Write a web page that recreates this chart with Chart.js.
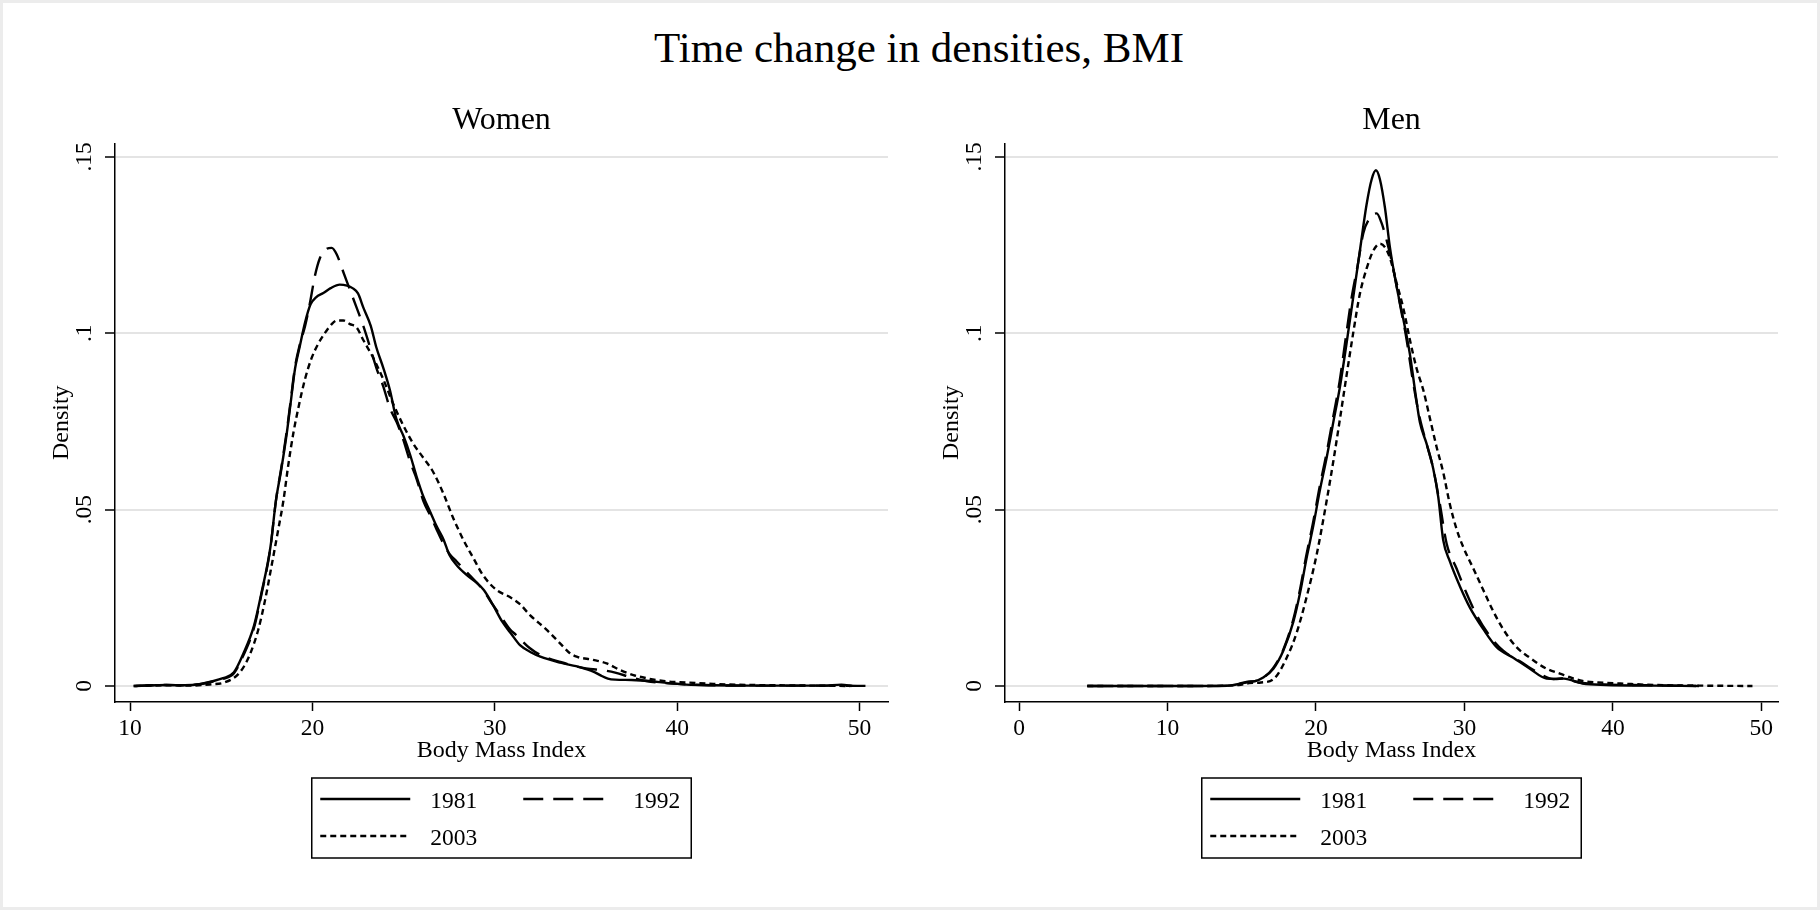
<!DOCTYPE html>
<html>
<head>
<meta charset="utf-8">
<script src="https://cdn.jsdelivr.net/npm/chart.js@4/dist/chart.umd.min.js"></script>
<style>
html,body{margin:0;padding:0;background:#fff;}
#frame{position:relative;width:1820px;height:910px;overflow:hidden;background:#fff;}
#border{position:absolute;left:0;top:0;width:1820px;height:910px;box-sizing:border-box;border:3px solid #ececec;pointer-events:none;}
#mainTitle{position:absolute;left:0;width:1838px;top:26px;text-align:center;font-family:"Liberation Serif",serif;font-size:43px;line-height:43px;color:#000;white-space:nowrap;}
.panel{position:absolute;top:0;width:910px;height:910px;}
</style>
</head>
<body>
<div id="frame">
  <div id="mainTitle">Time change in densities, BMI</div>
  <div class="panel" style="left:0px"><canvas id="women" width="910" height="910"></canvas></div>
  <div class="panel" style="left:890px"><canvas id="men" width="910" height="910"></canvas></div>
  <div id="border"></div>
</div>
<script>
// ---------- data ----------
const years = ['1981', '1992', '2003'];
const panelTitles = ['Women', 'Men'];
const xTitle = 'Body Mass Index';
const yTitle = 'Density';
const yTickValues = [0, 0.05, 0.1, 0.15];
const yTickLabels = ['0', '.05', '.1', '.15'];
const xTicksWomen = [10, 20, 30, 40, 50];
const xTicksMen = [0, 10, 20, 30, 40, 50];

const womenBmi1981 = [10.2, 11.0, 12.0, 13.0, 13.8, 14.4, 15.1, 15.7, 16.2, 16.8, 17.2, 17.7, 18.0, 18.3, 18.6, 18.8, 19.05, 19.3, 19.6, 19.9, 20.2, 20.6, 21.0, 21.5, 21.9, 22.2, 22.5, 22.8, 23.2, 23.5, 23.9, 24.25, 24.6, 25.0, 25.35, 25.7, 26.1, 26.45, 26.8, 27.2, 27.5, 27.9, 28.5, 29.0, 29.4, 29.9, 30.4, 30.9, 31.4, 32.0, 32.5, 33.6, 34.7, 35.4, 35.8, 36.2, 36.6, 37.5, 38.5, 39.5, 40.5, 42.0, 44.0, 46.0, 48.0, 49.0, 49.6];
const womenDens1981 = [0.0000, 0.0001, 0.0003, 0.0002, 0.0005, 0.0012, 0.0022, 0.0039, 0.0090, 0.0171, 0.0262, 0.0394, 0.0525, 0.0616, 0.0718, 0.0799, 0.0900, 0.0961, 0.1031, 0.1082, 0.1102, 0.1114, 0.1128, 0.1138, 0.1135, 0.1128, 0.1113, 0.1072, 0.1021, 0.0961, 0.0900, 0.0839, 0.0758, 0.0708, 0.0657, 0.0596, 0.0535, 0.0495, 0.0454, 0.0414, 0.0373, 0.0343, 0.0313, 0.0293, 0.0272, 0.0230, 0.0183, 0.0148, 0.0115, 0.0095, 0.0083, 0.0066, 0.0053, 0.0041, 0.0030, 0.0021, 0.0018, 0.0017, 0.0014, 0.0008, 0.0004, 0.0002, 0.0001, 0.0001, 0.0001, 0.0004, 0.0000];

const womenBmi1992 = [10.2, 11.0, 12.0, 13.0, 13.8, 14.4, 15.1, 15.7, 16.2, 16.8, 17.2, 17.7, 18.0, 18.3, 18.6, 18.8, 19.05, 19.3, 19.6, 19.87, 20.14, 20.42, 20.69, 21.06, 21.33, 21.70, 22.06, 22.43, 22.79, 23.16, 23.52, 23.89, 24.25, 24.62, 24.99, 25.35, 25.72, 26.08, 26.45, 26.81, 27.18, 27.54, 27.91, 28.46, 29.01, 29.37, 29.74, 30.29, 30.83, 31.16, 31.93, 32.5, 33.6, 35.0, 36.0, 36.6, 37.5, 38.3, 40.0, 42.0, 45.0, 48.0, 50.8];
const womenDens1992 = [0.0000, 0.0002, 0.0003, 0.0002, 0.0005, 0.0011, 0.0020, 0.0036, 0.0085, 0.0165, 0.0258, 0.0392, 0.0525, 0.0620, 0.0725, 0.0805, 0.0905, 0.0966, 0.1021, 0.1087, 0.1163, 0.1214, 0.1236, 0.1242, 0.1224, 0.1173, 0.1123, 0.1072, 0.1021, 0.0961, 0.0900, 0.0849, 0.0788, 0.0748, 0.0697, 0.0637, 0.0586, 0.0525, 0.0485, 0.0444, 0.0404, 0.0373, 0.0353, 0.0323, 0.0293, 0.0272, 0.0242, 0.0201, 0.0161, 0.0145, 0.0107, 0.0088, 0.0068, 0.0050, 0.0044, 0.0038, 0.0024, 0.0014, 0.0006, 0.0002, 0.0001, 0.0001, 0.0000];

const womenBmi2003 = [10.3, 12.0, 13.3, 14.5, 15.12, 16.03, 16.58, 17.04, 17.40, 17.77, 18.13, 18.41, 18.68, 18.96, 19.23, 19.59, 19.96, 20.33, 20.69, 21.06, 21.33, 21.70, 22.06, 22.43, 22.79, 23.34, 23.89, 24.44, 24.99, 25.53, 26.08, 26.63, 27.18, 27.73, 28.28, 28.82, 29.37, 30.10, 30.83, 31.38, 31.93, 32.85, 33.58, 34.12, 34.49, 35.40, 36.13, 36.87, 37.60, 38.33, 39.24, 40.15, 41.98, 43.81, 45.64, 47.47, 49.5];
const womenDens2003 = [0.0000, 0.0002, 0.0001, 0.0005, 0.0009, 0.0039, 0.0090, 0.0161, 0.0242, 0.0343, 0.0444, 0.0525, 0.0627, 0.0718, 0.0788, 0.0869, 0.0930, 0.0971, 0.1001, 0.1026, 0.1036, 0.1036, 0.1026, 0.1016, 0.0981, 0.0930, 0.0869, 0.0799, 0.0738, 0.0687, 0.0647, 0.0606, 0.0546, 0.0475, 0.0414, 0.0363, 0.0313, 0.0272, 0.0252, 0.0232, 0.0201, 0.0159, 0.0121, 0.0093, 0.0083, 0.0074, 0.0064, 0.0045, 0.0031, 0.0022, 0.0014, 0.0011, 0.0006, 0.0003, 0.0002, 0.0001, 0.0000];

const menBmi1981 = [4.6, 8.0, 12.0, 14.2, 14.8, 15.4, 15.9, 16.45, 17.13, 17.80, 18.47, 18.92, 19.37, 19.82, 20.27, 20.72, 21.17, 21.62, 22.06, 22.51, 22.96, 23.41, 23.75, 24.04, 24.31, 24.65, 24.98, 25.43, 25.88, 26.33, 26.67, 27.00, 27.45, 27.90, 28.24, 28.57, 29.02, 29.70, 30.37, 31.27, 32.17, 33.29, 34.41, 35.53, 36.1, 36.7, 37.96, 39.55, 42.7, 45.6];
const menDens1981 = [0.0000, 0.0000, 0.0000, 0.0001, 0.0006, 0.0012, 0.0014, 0.0024, 0.0049, 0.0100, 0.0181, 0.0262, 0.0363, 0.0454, 0.0556, 0.0647, 0.0748, 0.0849, 0.0971, 0.1102, 0.1234, 0.1365, 0.1436, 0.1462, 0.1436, 0.1355, 0.1244, 0.1133, 0.1041, 0.0940, 0.0839, 0.0748, 0.0687, 0.0616, 0.0535, 0.0414, 0.0353, 0.0282, 0.0222, 0.0161, 0.0110, 0.0080, 0.0049, 0.0021, 0.0020, 0.0021, 0.0007, 0.0003, 0.0001, 0.0000];

const menBmi1992 = [4.6, 8.0, 12.0, 14.2, 14.8, 15.4, 15.9, 16.45, 17.1, 17.8, 18.45, 18.9, 19.35, 19.8, 20.25, 20.7, 21.15, 21.6, 22.0, 22.4, 22.8, 23.19, 23.6, 24.09, 24.4, 24.76, 25.21, 25.66, 26.11, 26.55, 27.00, 27.45, 27.9, 28.35, 28.8, 29.47, 30.15, 30.82, 31.72, 32.61, 33.74, 34.86, 35.98, 36.8, 37.5, 39.0, 41.0, 43.0, 45.8];
const menDens1992 = [0.0000, 0.0000, 0.0000, 0.0001, 0.0005, 0.0011, 0.0014, 0.0023, 0.0050, 0.0103, 0.0185, 0.0268, 0.0370, 0.0462, 0.0565, 0.0657, 0.0760, 0.0865, 0.0985, 0.1100, 0.1190, 0.1284, 0.1325, 0.1340, 0.1315, 0.1264, 0.1183, 0.1082, 0.0981, 0.0859, 0.0758, 0.0687, 0.0616, 0.0515, 0.0404, 0.0333, 0.0262, 0.0201, 0.0141, 0.0100, 0.0070, 0.0040, 0.0020, 0.0022, 0.0012, 0.0005, 0.0003, 0.0002, 0.0000];

const menBmi2003 = [4.6, 8.0, 12.0, 14.8, 15.5, 16.3, 17.13, 18.03, 18.7, 19.37, 20.05, 20.72, 21.17, 21.62, 22.06, 22.51, 22.96, 23.41, 23.86, 24.31, 24.65, 24.98, 25.43, 25.88, 26.33, 26.78, 27.23, 27.68, 28.13, 28.57, 29.02, 29.47, 29.92, 30.6, 31.27, 31.94, 32.61, 33.51, 34.41, 35.53, 36.43, 36.7, 37.96, 39.0, 40.5, 42.7, 45.9, 49.4];
const menDens2003 = [0.0000, 0.0000, 0.0000, 0.0003, 0.0008, 0.0010, 0.0019, 0.0080, 0.0151, 0.0252, 0.0373, 0.0525, 0.0637, 0.0758, 0.0880, 0.1001, 0.1112, 0.1183, 0.1234, 0.1254, 0.1244, 0.1214, 0.1143, 0.1072, 0.0981, 0.0900, 0.0839, 0.0758, 0.0677, 0.0606, 0.0515, 0.0445, 0.0394, 0.0333, 0.0272, 0.0212, 0.0161, 0.0110, 0.0080, 0.0049, 0.0035, 0.0031, 0.0014, 0.0010, 0.0007, 0.0003, 0.0001, 0.0000];

// ---------- styling ----------
const FONT = 'Liberation Serif';
const dashes = [[], [20, 10], [6, 4]];

function pts(xs, ys) { return xs.map((x, i) => ({ x: x, y: ys[i] })); }

const boxLegend = {
  id: 'boxLegend',
  afterDraw(chart, args, o) {
    const { ctx, chartArea } = chart;
    const cx = (chartArea.left + chartArea.right) / 2;
    const left = cx - o.width / 2;
    const top = chartArea.bottom + o.offsetTop;
    ctx.save();
    ctx.strokeStyle = '#000';
    ctx.lineWidth = 1.5;
    ctx.setLineDash([]);
    ctx.strokeRect(left, top, o.width, o.height);
    ctx.font = o.fontSize + 'px "' + FONT + '"';
    ctx.textBaseline = 'middle';
    ctx.textAlign = 'left';
    ctx.fillStyle = '#000';
    chart.data.datasets.forEach((ds, i) => {
      const col = i % 2, row = Math.floor(i / 2);
      const sx = left + o.sampleX[col];
      const sy = top + o.rowY[row];
      ctx.beginPath();
      ctx.setLineDash(ds.borderDash || []);
      ctx.lineWidth = ds.borderWidth;
      ctx.strokeStyle = ds.borderColor;
      ctx.moveTo(sx, sy);
      ctx.lineTo(sx + o.sampleLen, sy);
      ctx.stroke();
      ctx.setLineDash([]);
      ctx.fillText(ds.label, sx + o.sampleLen + o.gap, sy + o.textDy);
    });
    ctx.restore();
  }
};

function makePanel(id, title, xMin, xMax, xTicks, series) {
  const datasets = series.map((s, i) => ({
    label: years[i],
    data: pts(s[0], s[1]),
    borderColor: '#000',
    borderWidth: 2.4,
    borderDash: dashes[i],
    pointRadius: 0,
    fill: false,
    cubicInterpolationMode: 'monotone'
  }));
  return new Chart(document.getElementById(id), {
    type: 'line',
    data: { datasets },
    plugins: [boxLegend],
    options: {
      responsive: false,
      devicePixelRatio: 1,
      animation: false,
      events: [],
      layout: { padding: { left: 0, top: 0, right: 22, bottom: 144.6 } },
      plugins: {
        legend: { display: false },
        tooltip: { enabled: false },
        title: {
          display: true, text: title, fullSize: false, color: '#000',
          font: { family: FONT, size: 32, weight: 'normal' },
          padding: { top: 101.3, bottom: 3.8 }
        },
        boxLegend: {
          width: 379.5, height: 80, offsetTop: 76,
          sampleX: [8.5, 211.5], rowY: [21, 58], sampleLen: 90, gap: 20,
          textDy: 2.5, fontSize: 23.5
        }
      },
      scales: {
        x: {
          type: 'linear', min: xMin, max: xMax,
          afterBuildTicks: s => { s.ticks = xTicks.map(v => ({ value: v })); },
          afterFit: s => { s.height = 63.4; },
          ticks: { color: '#000', font: { family: FONT, size: 23.5 }, padding: 4, maxRotation: 0, autoSkip: false },
          grid: { display: true, drawOnChartArea: false, drawTicks: true, tickLength: 9, tickColor: '#000', tickWidth: 1.5 },
          border: { display: true, color: '#000', width: 1.5 },
          title: { display: true, text: xTitle, color: '#000', font: { family: FONT, size: 24 }, padding: { top: 0, bottom: 0 } }
        },
        y: {
          type: 'linear', min: -0.00454, max: 0.1538,
          afterBuildTicks: s => { s.ticks = yTickValues.map(v => ({ value: v })); },
          afterFit: s => { s.width = 115; },
          ticks: {
            color: '#000', font: { family: FONT, size: 23.5 }, padding: 5,
            minRotation: 90, maxRotation: 90, crossAlign: 'center',
            callback: v => yTickLabels[yTickValues.findIndex(t => Math.abs(t - v) < 1e-9)]
          },
          grid: { color: '#e4e4e4', lineWidth: 2, drawTicks: true, tickLength: 10, tickColor: '#000', tickWidth: 1.5 },
          border: { display: true, color: '#000', width: 1.5 },
          title: { display: true, text: yTitle, color: '#000', font: { family: FONT, size: 24 }, padding: { top: 47.3, bottom: 0 } }
        }
      }
    }
  });
}

makePanel('women', panelTitles[0], 9.1775, 51.56, xTicksWomen, [
  [womenBmi1981, womenDens1981], [womenBmi1992, womenDens1992], [womenBmi2003, womenDens2003]
]);
makePanel('men', panelTitles[1], -0.943, 51.12, xTicksMen, [
  [menBmi1981, menDens1981], [menBmi1992, menDens1992], [menBmi2003, menDens2003]
]);
</script>
</body>
</html>
